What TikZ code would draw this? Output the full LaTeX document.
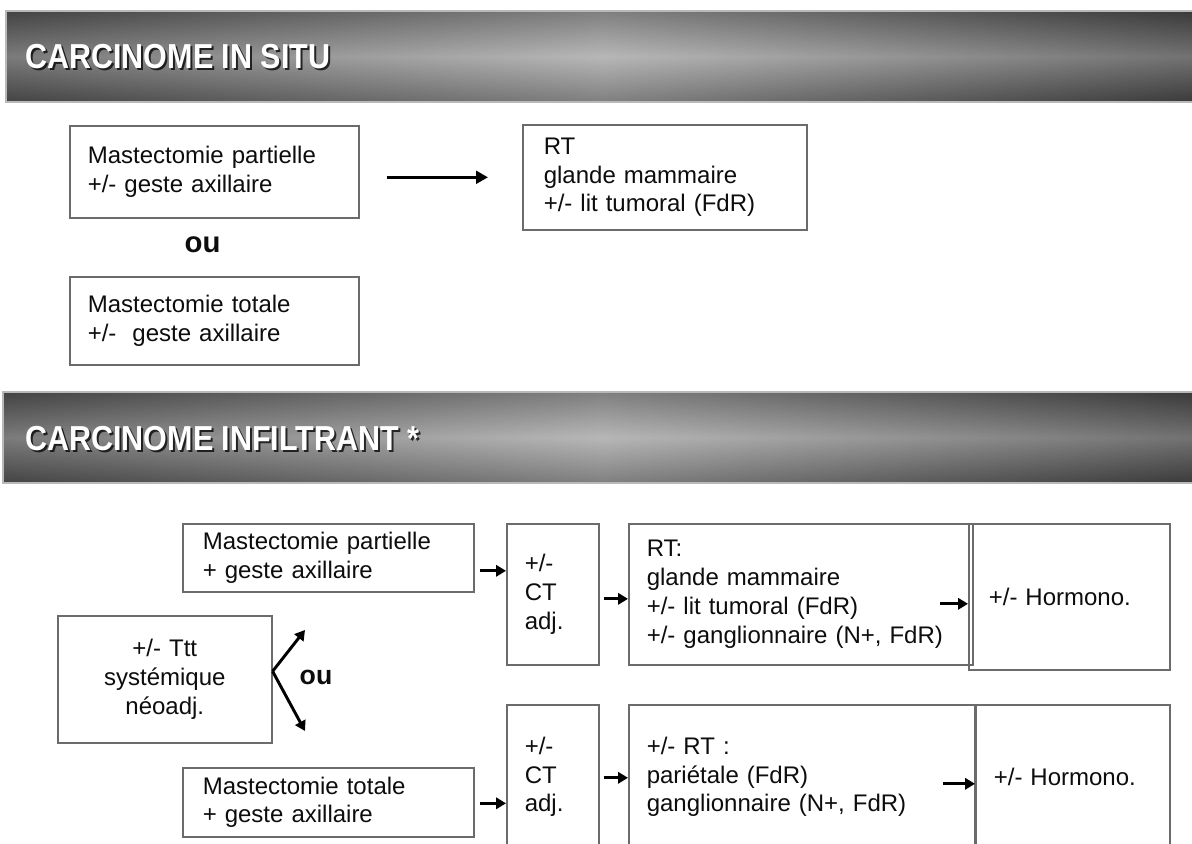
\documentclass[tikz,border=0pt]{standalone}
\usepackage{fontspec}
\setmainfont{Liberation Sans}
\newfontfamily\hdfont[FakeStretch=0.88]{Liberation Sans}
\usetikzlibrary{arrows.meta,calc}
\definecolor{boxc}{gray}{0.42}
\definecolor{txt}{gray}{0.05}
\definecolor{hdark}{gray}{0.34}
\definecolor{hlight}{gray}{0.64}
\begin{document}
\begin{tikzpicture}[x=0.75pt,y=-0.75pt,
  bx/.style n args={3}{draw=boxc, line width=1.2pt, anchor=north west, inner ysep=0pt,
     minimum width={#1*0.75pt}, minimum height={#2*0.75pt}, inner xsep={#3*0.75pt},
     text width={(#1-2*#3)*0.75pt}, align=left, font=\fontsize{18}{21.6}\selectfont, text=txt},
  hd/.style={anchor=base west, inner sep=0pt, font=\hdfont\fontsize{26}{30}\selectfont\bfseries, text=white},
  hdsh/.style={hd, text=black, opacity=0.75},
  ou/.style={inner sep=0pt, font=\bfseries, text=txt},
  bigarr/.style={draw=black, line width=2.2pt, -{Triangle[length=9pt,width=9.5pt]}},
  sarr/.style={draw=black, line width=2.2pt, -{Triangle[length=7.5pt,width=8.5pt]}},
  hdbar/.style={left color=hdark, right color=hdark!85!black, middle color=hlight},
  hdvert/.style={top color=black, bottom color=black, middle color=white, opacity=0.22},
]
\path[use as bounding box] (0,0) rectangle (1192,843);
\clip (0,0) rectangle (1192,843);
\fill[white] (0,0) rectangle (1192,843);

% ---------- header 1
\shade[hdbar] (6,11) rectangle (1200,102);
\shade[hdvert] (6,11) rectangle (1200,102);
\draw[gray!55, line width=0.8pt] (6,11) rectangle (1200,102);
\node[hdsh] (h1s) at (27,70) {CARCINOME IN SITU};
\node[hd] (h1) at (25,68) {CARCINOME IN SITU};

% ---------- top section
\node[bx={289}{92}{18}] (A) at (69,125) {Mastectomie partielle\\+/- geste axillaire};
\node[bx={284}{105}{21}] (B) at (522,124) {RT\\glande mammaire\\+/- lit tumoral (FdR)};
\node[bx={289}{88}{18}] (C) at (69,276) {Mastectomie totale\\+/-\ \ geste axillaire};
\node[ou, font=\fontsize{22}{26}\selectfont\bfseries] (ou1) at (202.5,245) {ou};
\draw[bigarr, shorten <=20.25pt, shorten >=25.5pt] (A.east |- B.west) -- (B.west);

% ---------- header 2
\shade[hdbar] (3,392) rectangle (1200,483);
\shade[hdvert] (3,392) rectangle (1200,483);
\draw[gray!55, line width=0.8pt] (3,392) rectangle (1200,483);
\node[hdsh] (h2s) at (27,452) {CARCINOME INFILTRANT *};
\node[hd] (h2) at (25,450) {CARCINOME INFILTRANT *};

% ---------- bottom section
\node[bx={291}{68}{20}] (D) at (182,523) {Mastectomie partielle\\+ geste axillaire};
\node[bx={92}{141}{18}] (E) at (506,523) {+/-\\CT\\adj.};
\node[bx={344}{141}{18}] (R1) at (628,523) {RT:\\glande mammaire\\+/- lit tumoral (FdR)\\+/- ganglionnaire (N+, FdR)};
\node[bx={201}{146}{20}] (H1) at (968,523) {+/- Hormono.};

\node[bx={214}{127}{10}, align=center] (F) at (57,615) {+/- Ttt\\systémique\\néoadj.};
\node[ou, font=\fontsize{20}{24}\selectfont\bfseries] (ou2) at (316,677) {ou};

\node[bx={291}{69}{20}] (G) at (182,767) {Mastectomie totale\\+ geste axillaire};
\node[bx={92}{144}{18}] (E2) at (506,704) {+/-\\CT\\adj.};
\node[bx={346}{144}{18}] (R2) at (628,704) {+/- RT :\\pariétale (FdR)\\ganglionnaire (N+, FdR)};
\node[bx={194}{144}{18}] (H2) at (975,704) {+/- Hormono.};

% connectors
\coordinate (fv) at ([yshift=6pt]F.east);
\coordinate (f1) at (305,630);
\coordinate (f2) at (305,731);
\draw[sarr] (fv) -- (f1);
\draw[sarr] (fv) -- (f2);

\coordinate (d1) at ([yshift=-9.75pt]D.east);
\draw[sarr, shorten <=3.75pt] (d1) -- (d1 -| E.west);
\coordinate (g1) at ([yshift=-0.75pt]G.east);
\draw[sarr, shorten <=3.75pt] (g1) -- (g1 -| E2.west);

\coordinate (e1) at ([yshift=-3.4pt]E.east);
\draw[sarr, shorten <=3pt] (e1) -- (e1 -| R1.west);
\coordinate (e2) at ([yshift=-0.75pt]E2.east);
\draw[sarr, shorten <=3pt] (e2) -- (e2 -| R2.west);

\coordinate (r1) at ([yshift=-5.25pt]H1.west);
\draw[sarr] ([xshift=-21pt]r1) -- (r1);
\coordinate (r2) at ([yshift=-5.25pt]H2.west);
\draw[sarr] ([xshift=-24pt]r2) -- (r2);
\end{tikzpicture}
\end{document}
